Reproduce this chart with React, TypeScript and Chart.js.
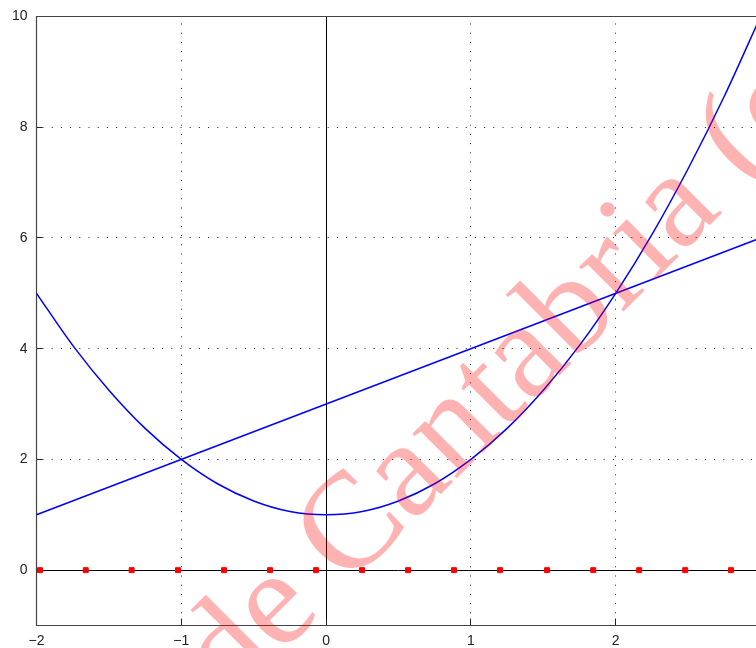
import React, { useEffect, useRef } from "react";
import { Chart, registerables } from "chart.js";

Chart.register(...registerables);

// ---- data ----
const xTickValues = [-2, -1, 0, 1, 2, 3];
const yTickValues = [0, 2, 4, 6, 8, 10];
const xGridValues = [-1, 1, 2];
const yGridValues = [2, 4, 6, 8];

const parabolaX = [-2, -1.75, -1.5, -1.25, -1, -0.75, -0.5, -0.25, 0, 0.25, 0.5, 0.75, 1, 1.25, 1.5, 1.75, 2, 2.25, 2.5, 2.75, 3];
const parabolaY = [5, 4.06, 3.25, 2.56, 2, 1.56, 1.25, 1.06, 1, 1.06, 1.25, 1.56, 2, 2.56, 3.25, 4.06, 5, 6.06, 7.25, 8.56, 10];

const lineX = [-2, 3];
const lineY = [1, 6];

const markerX = [-1.976, -1.66, -1.343, -1.023, -0.705, -0.387, -0.07, 0.248, 0.566, 0.883, 1.201, 1.526, 1.845, 2.162, 2.48, 2.796];
const markerY = [0, 0, 0, 0, 0, 0, 0, 0, 0, 0, 0, 0, 0, 0, 0, 0];

const watermarkLead = "Universidad de ";
const watermarkMain = "Cantabria (c)";

const fmt = (v: number) => (v < 0 ? "\u2212" + Math.abs(v) : String(v));

const framePlugin = {
  id: "frame",
  beforeDatasetsDraw(chart: any) {
    const { ctx, chartArea } = chart;
    const xs = chart.scales.x;
    const ys = chart.scales.y;
    const L = chartArea.left, R = chartArea.right, T = chartArea.top, B = chartArea.bottom;
    const al = (p: number) => Math.floor(p) + 0.5;
    ctx.save();
    // dotted grid
    ctx.strokeStyle = "#222";
    ctx.lineWidth = 1;
    ctx.setLineDash([1, 8.2]);
    for (const v of xGridValues) {
      const px = al(xs.getPixelForValue(v));
      ctx.beginPath();
      ctx.moveTo(px, T + 7);
      ctx.lineTo(px, B);
      ctx.stroke();
    }
    for (const v of yGridValues) {
      const py = al(ys.getPixelForValue(v));
      ctx.beginPath();
      ctx.moveTo(L + 6, py);
      ctx.lineTo(R, py);
      ctx.stroke();
    }
    ctx.setLineDash([]);
    // zero axes
    ctx.strokeStyle = "#000";
    const x0 = al(xs.getPixelForValue(0));
    const y0 = al(ys.getPixelForValue(0));
    ctx.beginPath();
    ctx.moveTo(x0, T);
    ctx.lineTo(x0, B);
    ctx.moveTo(L, y0);
    ctx.lineTo(R, y0);
    ctx.stroke();
    // tick marks
    ctx.strokeStyle = "#222";
    ctx.beginPath();
    for (const v of yTickValues) {
      const py = al(ys.getPixelForValue(v));
      ctx.moveTo(L, py);
      ctx.lineTo(L + 6, py);
    }
    for (const v of xTickValues) {
      const px = al(xs.getPixelForValue(v));
      ctx.moveTo(px, B);
      ctx.lineTo(px, B - 7);
    }
    ctx.stroke();
    // border
    ctx.strokeStyle = "#444";
    ctx.lineWidth = 1.2;
    ctx.beginPath();
    ctx.moveTo(al(R), al(T));
    ctx.lineTo(al(L), al(T));
    ctx.lineTo(al(L), al(B));
    ctx.lineTo(al(R), al(B));
    ctx.lineTo(al(R), al(T));
    ctx.stroke();
    ctx.restore();
  },
  afterDraw(chart: any) {
    const { ctx } = chart;
    ctx.save();
    ctx.font = "137px 'Liberation Serif'";
    ctx.fillStyle = "rgba(255,0,0,0.3)";
    ctx.textBaseline = "alphabetic";
    ctx.textAlign = "left";
    ctx.translate(347, 588);
    ctx.rotate(-Math.PI / 4);
    const w = ctx.measureText(watermarkLead).width;
    ctx.fillText(watermarkLead + watermarkMain, -w, 0);
    ctx.restore();
  },
};

export default function App() {
  const ref = useRef<HTMLCanvasElement | null>(null);
  useEffect(() => {
    if (!ref.current) return;
    const font = { family: "'Liberation Sans', Arial, sans-serif", size: 14 };
    const chart = new Chart(ref.current, {
      type: "line",
      data: {
        datasets: [
          {
            data: lineX.map((x, i) => ({ x, y: lineY[i] })),
            borderColor: "#0000ff",
            borderWidth: 1.5,
            pointRadius: 0,
            fill: false,
          },
          {
            data: parabolaX.map((x, i) => ({ x, y: parabolaY[i] })),
            borderColor: "#0000ff",
            borderWidth: 1.5,
            pointRadius: 0,
            cubicInterpolationMode: "monotone",
            fill: false,
          },
          {
            data: markerX.map((x, i) => ({ x, y: markerY[i] })),
            showLine: false,
            pointStyle: "rect",
            pointRadius: 3.5,
            borderWidth: 1,
            backgroundColor: "#ff0000",
            borderColor: "#ff0000",
          },
        ],
      } as any,
      options: {
        animation: false,
        responsive: false,
        maintainAspectRatio: false,
        events: [],
        layout: { padding: { left: 0, top: 16.5, right: 800 - 760.5, bottom: 0 } },
        plugins: { legend: { display: false }, tooltip: { enabled: false } },
        scales: {
          x: {
            type: "linear",
            min: -2,
            max: 3,
            grid: { display: false },
            border: { display: false },
            ticks: { font, color: "#222", padding: -1, maxRotation: 0, autoSkip: false, callback: (v: any) => fmt(Number(v)) },
            afterBuildTicks: (s: any) => {
              s.ticks = xTickValues.map((v) => ({ value: v }));
            },
            afterFit: (s: any) => {
              s.height = 22.5;
            },
          },
          y: {
            type: "linear",
            min: -1,
            max: 10,
            grid: { display: false },
            border: { display: false },
            ticks: { font, color: "#222", padding: 1, autoSkip: false, callback: (v: any) => fmt(Number(v)) },
            afterBuildTicks: (s: any) => {
              s.ticks = yTickValues.map((v) => ({ value: v }));
            },
            afterFit: (s: any) => {
              s.width = 36.5;
            },
          },
        },
      } as any,
      plugins: [framePlugin],
    });
    return () => chart.destroy();
  }, []);
  return (
    <div style={{ position: "absolute", left: 0, top: 0, width: 756, height: 648, overflow: "hidden", background: "#fff" }}>
      <canvas ref={ref} width={800} height={648} style={{ width: 800, height: 648, display: "block" }} />
    </div>
  );
}
